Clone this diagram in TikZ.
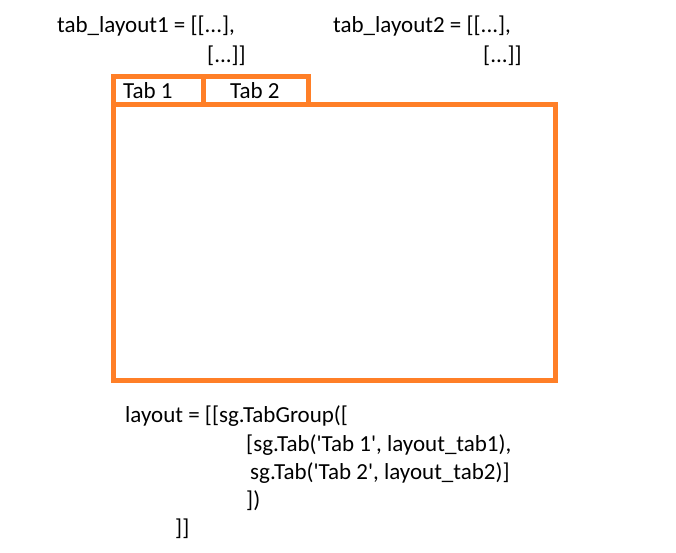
\documentclass[tikz,border=0pt]{standalone}
\usepackage{fontspec}
\setmainfont{Carlito}
\definecolor{paintorange}{HTML}{FF7F27}
\begin{document}
\begin{tikzpicture}[x=1pt,y=-1pt,
  frame/.style={draw=paintorange,line width=5pt,line join=miter,inner sep=0pt,outer sep=0pt},
  code/.style={anchor=base west,inner sep=0pt,font=\fontsize{23}{28}\selectfont}]
\useasboundingbox[fill=white] (0,0) rectangle (676,553);
% frames
\node[frame,minimum width=90pt,minimum height=28pt,anchor=north west] (tabA) at (113,77) {};
\node[frame,minimum width=105pt,minimum height=28pt,anchor=north west] (tabB) at (203,77) {};
\node[frame,minimum width=442pt,minimum height=275pt,anchor=north west] (main) at (113,105) {};
% tab labels
\node[code] (t1) at (123,99) {Tab 1};
\node[code] (t2) at (230,99) {Tab 2};
% top texts
\node[code] (l1a) at (57,33) {tab\_layout1 = [[...],};
\node[code] (l1b) at (207,63) {[...]]};
\node[code] (l2a) at (333,33) {tab\_layout2 = [[...],};
\node[code] (l2b) at (483,63) {[...]]};
% bottom code
\node[code] (c1) at (125,422) {layout = [[sg.TabGroup([};
\node[code] (c2) at (246,451) {[sg.Tab(\textquotesingle Tab 1\textquotesingle, layout\_tab1),};
\node[code] (c3) at (250,479) {sg.Tab(\textquotesingle Tab 2\textquotesingle, layout\_tab2)]};
\node[code] (c4) at (246,507) {])};
\node[code] (c5) at (175,535) {]]};
\end{tikzpicture}
\end{document}
